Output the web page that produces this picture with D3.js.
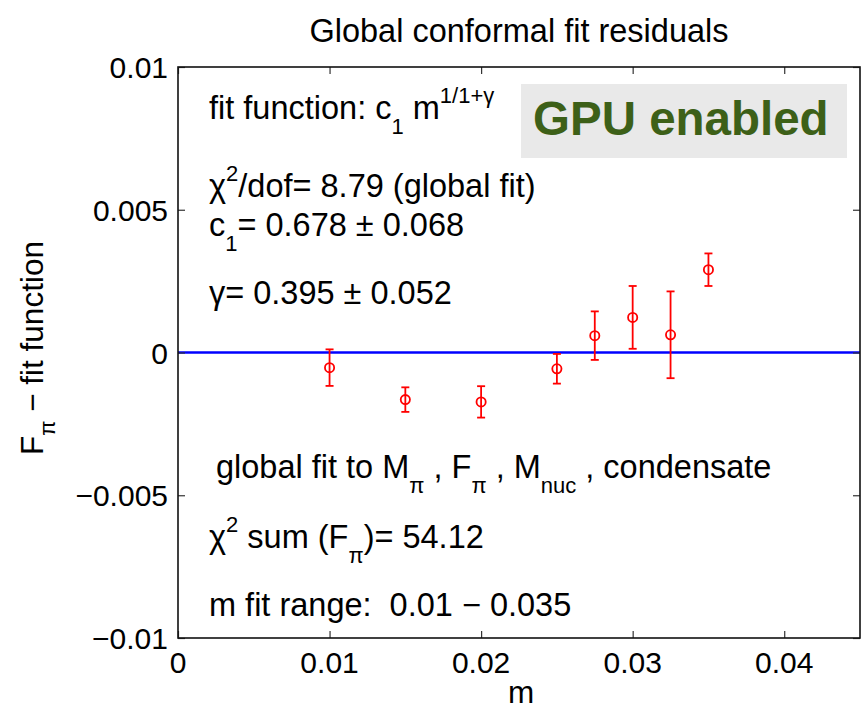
<!DOCTYPE html>
<html>
<head>
<meta charset="utf-8">
<script src="https://cdn.jsdelivr.net/npm/d3@7"></script>
<style>
  html, body { margin: 0; padding: 0; background: #fff; }
  svg { display: block; font-family: "Liberation Sans", Arial, Helvetica, sans-serif; }
  text { white-space: pre; }
</style>
</head>
<body>
<svg id="chart" width="861" height="709"></svg>
<script>
// ---- data ----
const mValues   = [0.01, 0.015, 0.02, 0.025, 0.0275, 0.03, 0.0325, 0.035];
const residuals = [-0.00053, -0.00165, -0.00173, -0.00057, 0.00059, 0.00123, 0.00062, 0.0029];
const errors    = [0.00064, 0.00043, 0.00055, 0.00052, 0.00085, 0.0011, 0.00152, 0.00057];
const xTicks = [0, 0.01, 0.02, 0.03, 0.04];
const yTicks = [-0.01, -0.005, 0, 0.005, 0.01];
const xTickLabels = ["0", "0.01", "0.02", "0.03", "0.04"];
const yTickLabels = ["\u22120.01", "\u22120.005", "0", "0.005", "0.01"];
const titleText = "Global conformal fit residuals";
const xLabelText = "m";

// ---- layout ----
const svg = d3.select("#chart");
const L = 178, R = 860, T = 67, B = 638;
const x = d3.scaleLinear().domain([0, 0.045]).range([L, R]);
const y = d3.scaleLinear().domain([-0.01, 0.01]).range([B, T]);
const tickFont = 30, labelFont = 31.5, annFont = 32.5, smallFont = 22;

// zero line
svg.append("line")
  .attr("x1", x(0)).attr("x2", x(0.045))
  .attr("y1", y(0)).attr("y2", y(0))
  .attr("stroke", "#0000ff").attr("stroke-width", 2.6);

// axes (inward ticks, box)
const axisStyle = g => {
  g.select(".domain").remove();
  g.selectAll(".tick line").attr("stroke", "#333").attr("stroke-width", 1.2);
  g.selectAll(".tick text").remove();
};
svg.append("g").attr("transform", `translate(0,${B})`)
  .call(d3.axisBottom(x).tickValues(xTicks).tickSize(-7)).call(axisStyle);
svg.append("g").attr("transform", `translate(0,${T})`)
  .call(d3.axisTop(x).tickValues(xTicks).tickSize(-7)).call(axisStyle);
svg.append("g").attr("transform", `translate(${L},0)`)
  .call(d3.axisLeft(y).tickValues(yTicks).tickSize(-7)).call(axisStyle);
svg.append("g").attr("transform", `translate(${R},0)`)
  .call(d3.axisRight(y).tickValues(yTicks).tickSize(-7)).call(axisStyle);

svg.append("rect")
  .attr("x", L).attr("y", T).attr("width", R - L).attr("height", B - T)
  .attr("fill", "none").attr("stroke", "#111").attr("stroke-width", 1.6);

// tick labels
svg.append("g").selectAll("text").data(xTicks).join("text")
  .attr("x", d => x(d)).attr("y", 673)
  .attr("text-anchor", "middle").attr("font-size", tickFont).attr("fill", "#000")
  .text((d, i) => xTickLabels[i]);
svg.append("g").selectAll("text").data(yTicks).join("text")
  .attr("x", 168).attr("y", d => y(d) + 11)
  .attr("text-anchor", "end").attr("font-size", tickFont).attr("fill", "#000")
  .text((d, i) => yTickLabels[i]);

// title and axis labels
svg.append("text").attr("x", 519).attr("y", 42).attr("text-anchor", "middle")
  .attr("font-size", annFont).attr("fill", "#000").text(titleText);
svg.append("text").attr("x", 521).attr("y", 703).attr("text-anchor", "middle")
  .attr("font-size", labelFont).attr("fill", "#000").text(xLabelText);

const yl = svg.append("text")
  .attr("transform", "translate(43,455) rotate(-90)")
  .attr("font-size", labelFont).attr("fill", "#000");
yl.append("tspan").text("F");
yl.append("tspan").attr("font-size", smallFont).attr("dy", 12).text("\u03c0");
yl.append("tspan").attr("dy", -12).text(" \u2212 fit function");

// error bars
const red = "#ff0000";
const eb = svg.append("g").attr("stroke", red).attr("stroke-width", 1.8).attr("fill", "none");
mValues.forEach((m, i) => {
  const cx = x(m), top = y(residuals[i] + errors[i]), bot = y(residuals[i] - errors[i]);
  eb.append("line").attr("x1", cx).attr("x2", cx).attr("y1", top).attr("y2", bot);
  eb.append("line").attr("x1", cx - 4).attr("x2", cx + 4).attr("y1", top).attr("y2", top);
  eb.append("line").attr("x1", cx - 4).attr("x2", cx + 4).attr("y1", bot).attr("y2", bot);
});
svg.append("g").selectAll("circle").data(mValues).join("circle")
  .attr("cx", d => x(d)).attr("cy", (d, i) => y(residuals[i])).attr("r", 4.6)
  .attr("fill", "none").attr("stroke", red).attr("stroke-width", 1.8);

// GPU box
svg.append("rect").attr("x", 521).attr("y", 84).attr("width", 326).attr("height", 74)
  .attr("fill", "#e9e9e9");
svg.append("text").attr("x", 533).attr("y", 135).attr("font-size", 47.5)
  .attr("font-weight", "bold").attr("fill", "#3d6018").text("GPU enabled");

// annotations
function rich(xp, yp, parts) {
  const t = svg.append("text").attr("x", xp).attr("y", yp)
    .attr("font-size", annFont).attr("fill", "#000");
  let cur = 0;
  parts.forEach(p => {
    const shift = p.sub ? 15 : p.sup ? -16 : 0;
    const ts = t.append("tspan").attr("dy", shift - cur).text(p.t);
    if (p.sub || p.sup) ts.attr("font-size", smallFont);
    cur = shift;
  });
  return t;
}
rich(209, 119, [{t: "fit function: c"}, {t: "1", sub: true}, {t: " m"}, {t: "1/1+\u03b3", sup: true}]);
rich(209, 197, [{t: "\u03c7"}, {t: "2", sup: true}, {t: "/dof= 8.79 (global fit)"}]);
rich(209, 236, [{t: "c"}, {t: "1", sub: true}, {t: "= 0.678 \u00b1 0.068"}]);
rich(209, 304, [{t: "\u03b3= 0.395 \u00b1 0.052"}]);
rich(216, 478, [{t: "global fit to M"}, {t: "\u03c0", sub: true}, {t: " , F"}, {t: "\u03c0", sub: true},
                {t: " , M"}, {t: "nuc", sub: true}, {t: " , condensate"}]);
rich(209, 548, [{t: "\u03c7"}, {t: "2", sup: true}, {t: " sum (F"}, {t: "\u03c0", sub: true}, {t: ")= 54.12"}]);
rich(209, 616, [{t: "m fit range:  0.01 \u2212 0.035"}]);
</script>
</body>
</html>
